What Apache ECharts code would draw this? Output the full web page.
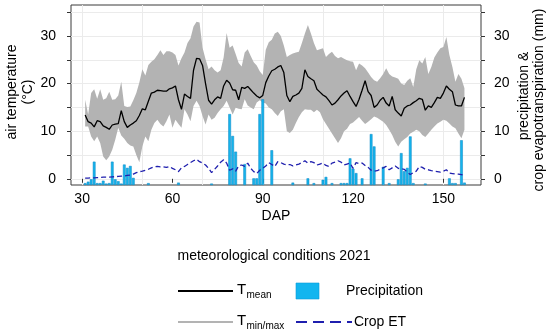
<!DOCTYPE html>
<html><head><meta charset="utf-8">
<script src="https://cdn.jsdelivr.net/npm/echarts@6/dist/echarts.min.js"></script>
<style>html,body{margin:0;padding:0;background:#fff}#c{width:550px;height:332px}</style>
</head><body><div id="c"></div>
<script>
// ---- data ----
const days = [31,32,33,34,35,36,37,38,39,40,
41,42,43,44,45,46,47,48,49,50,
51,52,53,54,55,56,57,58,59,60,
61,62,63,64,65,66,67,68,69,70,
71,72,73,74,75,76,77,78,79,80,
81,82,83,84,85,86,87,88,89,90,
91,92,93,94,95,96,97,98,99,100,
101,102,103,104,105,106,107,108,109,110,
111,112,113,114,115,116,117,118,119,120,
121,122,123,124,125,126,127,128,129,130,
131,132,133,134,135,136,137,138,139,140,
141,142,143,144,145,146,147,148,149,150,
151,152,153,154,155,156,157];
const tMean = [13.4,12.0,11.7,10.9,12.2,12.0,11.1,10.8,10.4,11.3,
11.5,11.6,14.3,12.0,10.8,11.3,11.7,12.2,13.3,14.7,
14.5,16.3,18.0,18.2,18.6,18.5,18.4,18.4,18.9,19.1,
19.5,16.6,14.6,17.8,17.3,16.9,22.8,25.3,25.2,23.8,
20.0,16.5,15.7,16.6,17.2,16.9,19.5,20.7,20.1,18.7,
18.6,16.6,19.2,19.0,19.4,18.7,18.0,17.4,17.0,17.5,
20.2,21.6,22.7,23.0,23.5,23.8,22.3,17.5,16.2,17.3,
17.6,18.0,19.0,22.9,21.5,21.0,20.6,18.8,18.2,17.6,
17.2,16.4,15.5,15.9,16.6,17.4,18.0,18.5,17.3,16.2,
15.2,16.7,18.6,20.6,18.3,17.5,15.0,15.5,16.5,17.1,
15.9,15.3,17.3,14.5,13.8,13.2,14.8,15.3,15.5,16.0,
16.4,16.9,16.7,14.4,15.3,15.0,16.0,17.1,16.9,18.0,
19.5,18.8,18.3,15.5,15.3,15.3,17.1];
const tMax = [16.6,13.5,18.0,18.8,16.8,18.8,16.6,16.9,18.3,16.6,
16.7,17.5,20.4,15.3,15.1,15.2,16.5,18.0,20.2,23.0,
21.7,23.9,24.6,25.1,26.0,27.0,26.0,26.8,26.8,26.5,
26.0,23.8,25.3,26.5,28.5,29.5,32.0,33.0,32.8,27.5,
25.1,23.0,23.6,22.8,22.3,22.8,25.5,30.6,27.5,28.0,
26.2,24.3,23.6,26.5,27.2,25.8,24.5,23.8,22.6,21.8,
27.1,28.7,29.2,30.5,30.9,30.0,28.0,25.6,26.0,26.3,
26.5,26.7,28.5,30.5,32.3,30.5,28.5,27.0,27.2,27.4,
25.6,26.2,26.7,25.8,25.3,25.6,25.2,24.9,24.7,24.6,
22.8,24.2,23.8,23.2,22.3,21.4,20.7,20.4,21.1,22.0,
23.2,22.0,21.5,21.3,21.0,20.0,19.7,20.6,21.1,19.3,
23.0,24.9,24.2,25.6,22.0,23.5,25.5,26.5,27.4,27.7,
29.8,26.0,23.5,20.4,22.0,21.0,19.0];
const tMin = [11.0,11.0,8.9,7.9,8.9,7.5,4.7,3.9,4.7,6.1,
8.2,10.7,9.1,8.4,7.5,7.0,6.8,5.0,3.5,6.8,
8.9,7.9,10.3,11.7,12.4,11.5,11.0,12.1,13.5,10.7,
12.4,11.5,10.7,14.6,13.5,12.1,15.3,16.4,15.3,13.2,
11.4,13.5,12.4,12.8,13.8,14.6,15.3,16.4,15.0,13.5,
14.9,14.7,14.6,16.7,15.4,15.0,14.6,16.0,16.5,16.0,
15.8,15.0,14.6,13.8,13.2,14.2,14.6,10.0,9.6,10.3,
11.7,13.0,14.0,14.6,14.5,14.5,14.0,14.5,14.0,12.5,
11.5,10.5,9.5,8.5,7.5,8.5,10.0,10.5,11.5,11.8,
12.4,13.0,12.2,11.5,12.0,12.5,13.1,12.8,12.4,12.0,
11.3,10.3,9.2,7.8,6.8,7.8,8.3,8.8,9.5,9.9,
10.3,10.0,9.2,8.8,9.5,10.3,11.0,11.6,12.0,12.4,
12.2,11.6,11.0,10.6,9.5,8.5,10.3];
const cropET = [0.15,0.15,0.2,0.2,0.25,0.3,0.35,0.35,0.35,0.4,
0.45,0.5,0.55,0.6,0.7,0.8,1.0,1.3,1.5,1.6,
1.8,2.0,2.3,2.5,2.6,2.5,2.5,2.4,2.6,2.2,
1.9,1.5,2.3,2.6,3.0,3.4,3.8,4.1,3.6,3.3,
2.9,2.2,1.3,2.0,2.7,3.5,4.0,3.3,1.8,2.1,
1.6,2.7,2.9,2.6,3.3,2.2,1.5,1.1,1.8,2.2,
2.7,3.4,3.0,2.6,3.6,3.4,3.1,2.9,3.0,2.7,
2.9,3.1,3.4,3.8,3.3,3.6,3.4,2.9,3.1,3.3,
2.8,2.6,3.3,3.5,3.8,3.5,2.9,3.1,3.3,2.2,
3.4,3.2,3.3,2.8,2.4,1.8,1.6,1.7,2.0,2.3,
2.6,1.9,2.3,2.7,2.2,2.1,2.0,1.4,0.9,1.3,
1.6,2.6,2.4,2.0,1.9,1.7,1.6,1.5,1.4,1.6,
1.9,1.2,1.1,1.0,1.0,0.9,0.7];
// precipitation bars: day and bar length (mm, measured from the panel floor)
const precipDays = [31,32,33,34,35,36,37,38,39,40,41,42,43,44,45,46,47,52,62,73,
79,80,81,84,87,88,89,90,93,100,105,107,110,111,113,116,117,118,119,120,
121,123,126,127,130,132,135,136,137,138,139,140,144,152,153,154,156,157];
const precipVals = [0.4,0.7,1.2,4.9,0.4,0.4,0.9,0.3,0.4,4.9,1.2,0.8,0.3,4.3,3.6,4.0,1.5,0.4,0.5,0.3,
14.9,10.3,7.0,4.4,1.4,1.4,14.9,18.0,7.3,0.5,1.4,0.4,1.1,1.7,0.4,0.4,0.4,0.4,5.6,3.4,
2.5,1.4,10.7,8.1,3.8,0.4,1.2,6.7,2.9,3.6,10.2,0.4,0.3,1.4,0.4,0.4,9.4,0.5];
const xTicks = [30,60,90,120,150];
const xGrid = [30,50,70,90,110,130,150];
const yTicks = [0,5,10,15,20,25,30,35];
const yLabels = [0,10,20,30];

// ---- chart ----
const FONT = "'Liberation Sans', Arial, sans-serif";
const Y_MIN = -1.3, Y_MAX = 36.5, X_MIN = 26.3, X_MAX = 162.5;
const chart = echarts.init(document.getElementById('c'), null, {renderer: 'canvas'});
const pair = (arr) => days.map((d, i) => [d, arr[i]]);
const tickStyle = {show: true, inside: false, length: 4, lineStyle: {color: '#333', width: 1}};
const labelStyle = {fontSize: 14, color: '#000', fontFamily: FONT};

const option = {
  backgroundColor: '#fff',
  animation: false,
  grid: {left: 71, right: 69, top: 5, bottom: 147, show: true, borderColor: '#3a3a3a', borderWidth: 1, backgroundColor: 'transparent'},
  xAxis: [
    {type: 'value', min: X_MIN, max: X_MAX, position: 'bottom',
     axisLine: {show: false},
     axisTick: Object.assign({customValues: xTicks}, tickStyle),
     axisLabel: Object.assign({customValues: xTicks, margin: 7}, labelStyle),
     splitLine: {show: false}},
    {type: 'value', min: X_MIN, max: X_MAX, position: 'bottom',
     axisLine: {show: false},
     axisTick: {show: false, customValues: xGrid},
     axisLabel: {show: false},
     splitLine: {show: true, lineStyle: {color: '#ebebeb', width: 1}}}
  ],
  yAxis: [
    {type: 'value', min: Y_MIN, max: Y_MAX, position: 'left',
     axisLine: {show: false},
     axisTick: Object.assign({customValues: yTicks}, tickStyle),
     axisLabel: Object.assign({customValues: yLabels, margin: 15}, labelStyle),
     splitLine: {show: true, lineStyle: {color: '#ebebeb', width: 1}}},
    {type: 'value', min: Y_MIN, max: Y_MAX, position: 'right',
     axisLine: {show: false},
     axisTick: Object.assign({customValues: yTicks}, tickStyle),
     axisLabel: Object.assign({customValues: yLabels, margin: 13}, labelStyle),
     splitLine: {show: false}},
    {type: 'value', min: 0, max: Y_MAX - Y_MIN, show: false, splitLine: {show: false}}
  ],
  series: [
    {name: 'Tmin/max', type: 'custom', xAxisIndex: 0, yAxisIndex: 0, data: [[X_MIN, 0]],
     silent: true, z: 1, clip: true,
     renderItem: function (params, api) {
       const pts = [];
       for (let i = 0; i < days.length; i++) pts.push(api.coord([days[i], tMax[i]]));
       for (let i = days.length - 1; i >= 0; i--) pts.push(api.coord([days[i], tMin[i]]));
       return {type: 'polygon', shape: {points: pts}, style: {fill: '#b3b3b3', stroke: null}};
     }},
    {name: 'Precipitation', type: 'bar', xAxisIndex: 0, yAxisIndex: 2,
     data: precipDays.map((d, i) => [d, precipVals[i]]), barWidth: 2.7,
     itemStyle: {color: '#15b4ec', borderColor: '#0a86c4', borderWidth: 0.5}, z: 2},
    {name: 'Tmean', type: 'line', xAxisIndex: 0, yAxisIndex: 0, data: pair(tMean),
     symbol: 'none', lineStyle: {color: '#000', width: 1.3}, z: 3},
    {name: 'Crop ET', type: 'line', xAxisIndex: 0, yAxisIndex: 1, data: pair(cropET),
     symbol: 'none', lineStyle: {color: '#1f1fae', width: 1.3, type: [5, 3]}, z: 4}
  ],
  graphic: [
    {type: 'text', x: 12.5, y: 92, rotation: Math.PI / 2,
     style: {text: 'air temperature', font: '14px ' + FONT, fill: '#000', align: 'center', verticalAlign: 'middle'}},
    {type: 'text', x: 28, y: 92, rotation: Math.PI / 2,
     style: {text: '(°C)', font: '14px ' + FONT, fill: '#000', align: 'center', verticalAlign: 'middle'}},
    {type: 'text', x: 524, y: 96, rotation: Math.PI / 2,
     style: {text: 'precipitation &', font: '14px ' + FONT, fill: '#000', align: 'center', verticalAlign: 'middle'}},
    {type: 'text', x: 539.5, y: 100, rotation: Math.PI / 2,
     style: {text: 'crop evapotranspiration (mm)', font: '14px ' + FONT, fill: '#000', align: 'center', verticalAlign: 'middle'}},
    {type: 'text', x: 276, y: 216,
     style: {text: 'DAP', font: '14px ' + FONT, fill: '#000', align: 'center', verticalAlign: 'middle'}},
    {type: 'text', x: 177.5, y: 256,
     style: {text: 'meteorological conditions 2021', font: '14px ' + FONT, fill: '#000', align: 'left', verticalAlign: 'middle'}},
    {type: 'line', shape: {x1: 178, y1: 291, x2: 233, y2: 291}, style: {stroke: '#000', lineWidth: 2}},
    {type: 'text', x: 237, y: 290,
     style: {text: 'T', font: '15px ' + FONT, fill: '#000', align: 'left', verticalAlign: 'middle'}},
    {type: 'text', x: 246.5, y: 295,
     style: {text: 'mean', font: '10px ' + FONT, fill: '#000', align: 'left', verticalAlign: 'middle'}},
    {type: 'rect', shape: {x: 296, y: 283, width: 23, height: 16}, style: {fill: '#12b5ef', stroke: '#0a9ad8', lineWidth: 0.6}},
    {type: 'text', x: 346, y: 291,
     style: {text: 'Precipitation', font: '14px ' + FONT, fill: '#000', align: 'left', verticalAlign: 'middle'}},
    {type: 'line', shape: {x1: 178, y1: 322, x2: 233, y2: 322}, style: {stroke: '#b3b3b3', lineWidth: 2}},
    {type: 'text', x: 237, y: 321,
     style: {text: 'T', font: '15px ' + FONT, fill: '#000', align: 'left', verticalAlign: 'middle'}},
    {type: 'text', x: 246.5, y: 326,
     style: {text: 'min/max', font: '10px ' + FONT, fill: '#000', align: 'left', verticalAlign: 'middle'}},
    {type: 'line', shape: {x1: 296, y1: 322, x2: 352, y2: 322}, style: {stroke: '#1f1fae', lineWidth: 2, lineDash: [11, 6]}},
    {type: 'text', x: 354, y: 322,
     style: {text: 'Crop ET', font: '14px ' + FONT, fill: '#000', align: 'left', verticalAlign: 'middle'}}
  ]
};
chart.setOption(option);
</script>
</body></html>
